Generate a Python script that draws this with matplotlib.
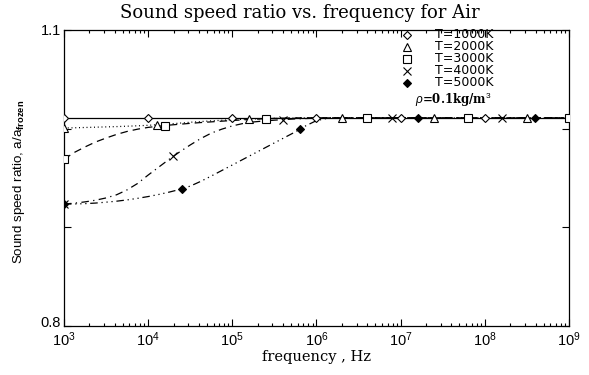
import numpy as np
import matplotlib
matplotlib.use("Agg")
import matplotlib.pyplot as plt
from matplotlib.ticker import LogLocator, FixedLocator, NullFormatter
from matplotlib.transforms import ScaledTranslation

# ---------------- data (log10 of frequency in Hz, sound speed ratio) ----------------
log_f = [3.0, 3.125, 3.25, 3.375, 3.5, 3.625, 3.75, 3.875,
         4.0, 4.125, 4.25, 4.375, 4.5, 4.625, 4.75, 4.875,
         5.0, 5.125, 5.25, 5.375, 5.5, 5.625, 5.75, 5.875,
         6.0, 6.125, 6.25, 6.375, 6.5, 7.0, 8.0, 9.0]

ratio_1000 = [1.011] * 32
ratio_2000 = [1.0007, 1.0009, 1.0012, 1.0015, 1.0018, 1.0021, 1.0025, 1.0029,
              1.0034, 1.0041, 1.0048, 1.0056, 1.0065, 1.0072, 1.0079, 1.0085,
              1.0090, 1.0095, 1.0099, 1.0102, 1.0105, 1.0107, 1.0109, 1.0110,
              1.011, 1.011, 1.011, 1.011, 1.011, 1.011, 1.011, 1.011]
ratio_3000 = [0.9690, 0.9760, 0.9815, 0.9865, 0.9905, 0.9942, 0.9972, 0.9995,
              1.0013, 1.0025, 1.0036, 1.0045, 1.0054, 1.0062, 1.0069, 1.0076,
              1.0083, 1.0089, 1.0095, 1.0100, 1.0104, 1.0107, 1.0109, 1.0110,
              1.011, 1.011, 1.011, 1.011, 1.011, 1.011, 1.011, 1.011]
ratio_4000 = [0.9236, 0.9245, 0.9258, 0.9275, 0.9298, 0.9330, 0.9380, 0.9445,
              0.9530, 0.9610, 0.9690, 0.9765, 0.9835, 0.9900, 0.9955, 0.9995,
              1.0028, 1.0052, 1.0068, 1.0078, 1.0086, 1.0093, 1.0099, 1.0103,
              1.0107, 1.0109, 1.011, 1.011, 1.011, 1.011, 1.011, 1.011]
ratio_5000 = [0.9236, 0.9237, 0.9240, 0.9246, 0.9255, 0.9265, 0.9278, 0.9294,
              0.9312, 0.9333, 0.9357, 0.9384, 0.9418, 0.9466, 0.9520, 0.9576,
              0.9632, 0.9688, 0.9744, 0.9800, 0.9856, 0.9912, 0.9968, 1.0030,
              1.0082, 1.0104, 1.011, 1.011, 1.011, 1.011, 1.011, 1.011]

# marker positions (log10 f) and values
mk_f_1000 = [3, 4, 5, 6, 7, 8, 9]
mk_v_1000 = [1.011, 1.011, 1.011, 1.011, 1.011, 1.011, 1.011]
mk_f_2000 = [3.0, 4.1, 5.2, 6.3, 7.4, 8.5]
mk_v_2000 = [1.0007, 1.0040, 1.0098, 1.011, 1.011, 1.011]
mk_f_3000 = [3.0, 4.2, 5.4, 6.6, 7.8, 9.0]
mk_v_3000 = [0.969, 1.0030, 1.0100, 1.011, 1.011, 1.011]
mk_f_4000 = [3.0, 4.3, 5.6, 6.9, 8.2]
mk_v_4000 = [0.9236, 0.972, 1.0088, 1.011, 1.011]
mk_f_5000 = [3.0, 4.4, 5.8, 7.2, 8.6]
mk_v_5000 = [0.9236, 0.939, 0.9995, 1.011, 1.011]

labels = ["T=1000K", "T=2000K", "T=3000K", "T=4000K", "T=5000K"]
x_tick_exps = [3, 4, 5, 6, 7, 8, 9]
y_ticks = [0.8, 0.9, 1.0, 1.1]
y_tick_labels = ["0.8", "", "", "1.1"]

# ---------------- figure ----------------
W, H = 589, 375
plt.rcParams['mathtext.fontset'] = 'custom'
plt.rcParams['mathtext.rm'] = 'Liberation Sans'
plt.rcParams['mathtext.it'] = 'Liberation Sans:italic'
plt.rcParams['mathtext.bf'] = 'Liberation Sans:bold'

fig = plt.figure(figsize=(W / 100, H / 100), dpi=100)
ax = fig.add_axes([64 / W, 1 - 326 / H, (569 - 64) / W, (326 - 30) / H])

lw = 0.9
styles = [
    dict(ls='-', marker='D', ms=4.2, mfc='white'),
    dict(ls=(0, (0.8, 2.2)), marker='^', ms=5.5, mfc='white'),
    dict(ls=(0, (6, 4)), marker='s', ms=5.2, mfc='white'),
    dict(ls=(0, (6, 3.5, 1, 3.5)), marker='x', ms=5.5, mfc='black'),
    dict(ls=(0, (6, 3, 1, 3, 1, 3, 1, 3)), marker='D', ms=3.8, mfc='black'),
]
series = [ratio_1000, ratio_2000, ratio_3000, ratio_4000, ratio_5000]
mk_f = [mk_f_1000, mk_f_2000, mk_f_3000, mk_f_4000, mk_f_5000]
mk_v = [mk_v_1000, mk_v_2000, mk_v_3000, mk_v_4000, mk_v_5000]

freq = [10 ** v for v in log_f]
for vals, st, mf, mv in zip(series, styles, mk_f, mk_v):
    ax.plot(freq, vals, color='black', lw=lw, ls=st['ls'], zorder=2)
    ax.plot([10 ** v for v in mf], mv, ls='none', marker=st['marker'], ms=st['ms'],
            mfc=st['mfc'], mec='black', mew=0.8, color='black', zorder=3)

ax.set_xscale('log')
ax.set_xlim(1e3, 1e9)
ax.set_ylim(0.8, 1.1)

ax.xaxis.set_major_locator(FixedLocator([10.0 ** e for e in x_tick_exps]))
ax.set_xticklabels([r'$10^{%d}$' % e for e in x_tick_exps])
ax.xaxis.set_minor_locator(LogLocator(base=10, subs=np.arange(2, 10)))
ax.xaxis.set_minor_formatter(NullFormatter())
ax.set_yticks(y_ticks)
ax.set_yticklabels(y_tick_labels)

ax.tick_params(axis='both', which='major', direction='in', length=5, width=0.8,
               top=True, right=True, labelsize=10.5, pad=3)
ax.tick_params(axis='y', which='major', pad=2)
ax.tick_params(axis='both', which='minor', direction='in', length=2.5, width=0.8,
               top=True, right=True)
for lab in ax.get_xticklabels() + ax.get_yticklabels():
    lab.set_family('Liberation Sans')
# nudge the bottom y label up slightly so it clears the 10^3 label
lab08 = ax.get_yticklabels()[0]
lab08.set_transform(lab08.get_transform() + ScaledTranslation(0, 3 / 72, fig.dpi_scale_trans))
for s in ax.spines.values():
    s.set_linewidth(0.9)

# title and axis labels
fig.text(300 / W, 1 - 13 / H, "Sound speed ratio vs. frequency for Air",
         ha='center', va='center', family='DejaVu Serif', fontsize=13)
fig.text(316 / W, 1 - 357 / H, "frequency , Hz", ha='center', va='center',
         family='DejaVu Serif', fontsize=10.5)
fig.text(19 / W, 1 - 182 / H, r"Sound speed ratio, a/a$_{\mathbf{frozen}}$",
         ha='center', va='center', rotation=90, family='Liberation Sans', fontsize=9.6)

# legend (IDL-style, no box)
leg_y = [35, 47, 59, 71, 83]
for lab, st, yy in zip(labels, styles, leg_y):
    fig.lines.append(plt.Line2D([407 / W], [1 - yy / H], transform=fig.transFigure,
                                ls='none', marker=st['marker'], ms=st['ms'],
                                mfc=st['mfc'], mec='black', mew=0.8, color='black'))
    fig.text(435 / W, 1 - yy / H, lab, ha='left', va='center',
             family='DejaVu Sans', fontsize=9)
fig.text(415 / W, 1 - 100 / H, r"$\rho$=0.1kg/m$^{3}$", ha='left', va='center',
         family='DejaVu Serif', fontsize=8.5, fontweight='bold')

fig.savefig("out.png", dpi=100)
